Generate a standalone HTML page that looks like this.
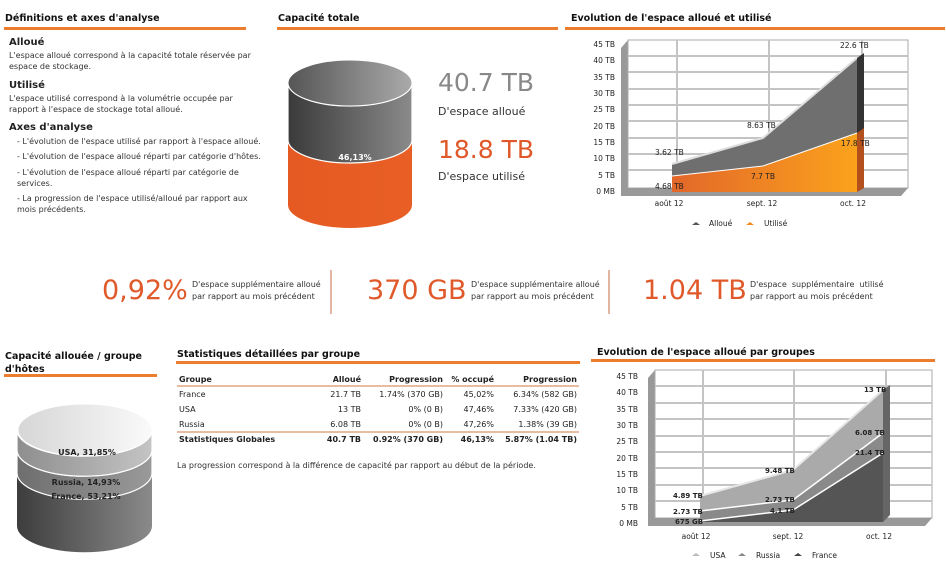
<!DOCTYPE html>
<html><head><meta charset="utf-8"><style>
body{margin:0;width:946px;height:587px;background:#fff;font-family:"DejaVu Sans","Liberation Sans",sans-serif;color:#222;position:relative;overflow:hidden}
.a{position:absolute;white-space:nowrap}
.h{font-weight:bold;font-size:9.5px;color:#111}
.ln{position:absolute;height:3px;background:#ec7d2f}
.s{font-size:8px;color:#333}
.b{font-weight:bold;font-size:10px}
.big{font-size:27px;color:#e0592a}
.sm{font-size:8px;color:#333;line-height:12px}
table{border-collapse:collapse;font-size:8px;position:absolute;table-layout:fixed}
td{padding:0;height:15px;text-align:right}
</style></head><body>
<div class="a h" style="left:5px;top:13px">Définitions et axes d'analyse</div>
<div class="ln" style="left:4px;top:27px;width:242px"></div>
<div class="a h" style="left:278px;top:13px">Capacité totale</div>
<div class="ln" style="left:277px;top:27px;width:281px"></div>
<div class="a h" style="left:571px;top:13px">Evolution de l'espace alloué et utilisé</div>
<div class="ln" style="left:565px;top:27px;width:380px"></div>

<div class="a b" style="left:9px;top:37px">Alloué</div>
<div class="a s" style="left:9px;top:50px;line-height:11px">L'espace alloué correspond à la capacité totale réservée par<br>espace de stockage.</div>
<div class="a b" style="left:9px;top:80px">Utilisé</div>
<div class="a s" style="left:9px;top:93px;line-height:11px">L'espace utilisé correspond à la volumétrie occupée par<br>rapport à l'espace de stockage total alloué.</div>
<div class="a b" style="left:9px;top:122px">Axes d'analyse</div>
<div class="a s" style="left:17px;top:137px">- L'évolution de l'espace utilisé par rapport à l'espace alloué.</div>
<div class="a s" style="left:17px;top:152px">- L'évolution de l'espace alloué réparti par catégorie d'hôtes.</div>
<div class="a s" style="left:17px;top:167px;line-height:11px">- L'évolution de l'espace alloué réparti par catégorie de<br>services.</div>
<div class="a s" style="left:17px;top:193px;line-height:11px">- La progression de l'espace utilisé/alloué par rapport aux<br>mois précédents.</div>

<svg class="a" style="left:0;top:0" width="946" height="587">
<defs>
<linearGradient id="g1" x1="0" x2="1"><stop offset="0" stop-color="#3a3a3a"/><stop offset="1" stop-color="#8a8a8a"/></linearGradient>
<linearGradient id="g1t" x1="0" x2="1"><stop offset="0" stop-color="#555"/><stop offset="1" stop-color="#aaa"/></linearGradient>
<linearGradient id="go" x1="0" x2="1"><stop offset="0" stop-color="#e55a22"/><stop offset="1" stop-color="#e85f25"/></linearGradient>
<linearGradient id="gt" x1="0" x2="1"><stop offset="0" stop-color="#d6d6d6"/><stop offset="1" stop-color="#fafafa"/></linearGradient>
<linearGradient id="gu" x1="0" x2="1"><stop offset="0" stop-color="#8e8e8e"/><stop offset="1" stop-color="#c4c4c4"/></linearGradient>
<linearGradient id="gr" x1="0" x2="1"><stop offset="0" stop-color="#6e6e6e"/><stop offset="1" stop-color="#9a9a9a"/></linearGradient>
<linearGradient id="gf" x1="0" x2="1"><stop offset="0" stop-color="#3d3d3d"/><stop offset="1" stop-color="#8a8a8a"/></linearGradient>
<linearGradient id="ga" x1="0" x2="1"><stop offset="0" stop-color="#e2672a"/><stop offset="1" stop-color="#fba21c"/></linearGradient>
</defs>
<path d="M288 205 V140 A62 23 0 0 0 412 140 V205 A62 23 0 0 1 288 205Z" fill="url(#go)"/>
<path d="M288 140 V83 A62 23 0 0 0 412 83 V140 A62 23 0 0 1 288 140Z" fill="url(#g1)" stroke="#fff" stroke-width="1.2"/>
<ellipse cx="350" cy="83" rx="62" ry="23" fill="url(#g1t)" stroke="#fff" stroke-width="1"/>
<text x="355" y="160" font-size="8" font-weight="bold" fill="#fff" text-anchor="middle" font-family="DejaVu Sans">46,13%</text>
<path d="M17 526 V473 A67 26 0 0 0 152 473 V526 A67 26 0 0 1 17 526Z" fill="url(#gf)"/>
<path d="M17 473 V450 A67 26 0 0 0 152 450 V473 A67 26 0 0 1 17 473Z" fill="url(#gr)" stroke="#fff" stroke-width="1.2"/>
<path d="M17 450 V430 A67 26 0 0 0 152 430 V450 A67 26 0 0 1 17 450Z" fill="url(#gu)" stroke="#fff" stroke-width="1.2"/>
<ellipse cx="85" cy="430" rx="67" ry="26" fill="url(#gt)" stroke="#fff"/>
<g font-size="8" font-weight="bold" fill="#222" text-anchor="middle" font-family="DejaVu Sans">
<text x="87" y="455">USA, 31,85%</text><text x="86" y="485">Russia, 14,93%</text><text x="86" y="499">France, 53,21%</text></g>

<g font-family="DejaVu Sans" font-size="7.5" fill="#222">
<path d="M621 48 L628 40 V188 L621 196Z" fill="#999"/>
<rect x="628" y="40" width="280" height="148" fill="#fff" stroke="#aaa"/>
<g stroke="#c4c4c4" stroke-width="2">
<line x1="628" y1="56" x2="908" y2="56"/><line x1="628" y1="72" x2="908" y2="72"/><line x1="628" y1="89" x2="908" y2="89"/><line x1="628" y1="105" x2="908" y2="105"/><line x1="628" y1="121" x2="908" y2="121"/><line x1="628" y1="138" x2="908" y2="138"/><line x1="628" y1="154" x2="908" y2="154"/><line x1="628" y1="170" x2="908" y2="170"/>
<line x1="677" y1="40" x2="677" y2="188"/><line x1="769" y1="40" x2="769" y2="188"/><line x1="862" y1="40" x2="862" y2="188"/></g>
<path d="M621 188 H908 L901 196 H621Z" fill="#999"/>
<path d="M672 164 L763 138 L857 58 V190 H672Z" fill="#6f6f6f"/>
<path d="M672 164 L763 138 L857 58" fill="none" stroke="#ddd" stroke-width="2"/>
<path d="M857 58 L864 53 V185 L857 190Z" fill="#333"/>
<path d="M672 176 L763 166 L857 133 V192 H672Z" fill="url(#ga)"/>
<path d="M672 176 L763 166 L857 133" fill="none" stroke="#fff" stroke-width="1"/>
<path d="M857 133 L864 128 V188 L857 192Z" fill="#b4501e"/>
<g text-anchor="end"><text x="615" y="47">45 TB</text><text x="615" y="63">40 TB</text><text x="615" y="80">35 TB</text><text x="615" y="96">30 TB</text><text x="615" y="112">25 TB</text><text x="615" y="129">20 TB</text><text x="615" y="145">15 TB</text><text x="615" y="161">10 TB</text><text x="615" y="178">5 TB</text><text x="615" y="194">0 MB</text></g>
<text x="655" y="155">3.62 TB</text><text x="747" y="128">8.63 TB</text><text x="840" y="48">22.6 TB</text>
<text x="655" y="189">4.68 TB</text><text x="751" y="179">7.7 TB</text><text x="841" y="146">17.8 TB</text>
<g text-anchor="middle"><text x="669" y="206">août 12</text><text x="762" y="206">sept. 12</text><text x="853" y="206">oct. 12</text></g>
<path d="M692 225 l4 -3 l4 3Z" fill="#555"/><text x="709" y="226">Alloué</text>
<path d="M746 225 l4 -3 l4 3Z" fill="#f08a20"/><text x="764" y="226">Utilisé</text>
</g>

<g font-family="DejaVu Sans" font-size="7.5" fill="#222">
<path d="M648 378 L655 370 V518 L648 526Z" fill="#999"/>
<rect x="655" y="370" width="277" height="148" fill="#fff" stroke="#aaa"/>
<g stroke="#c4c4c4" stroke-width="2">
<line x1="655" y1="386" x2="932" y2="386"/><line x1="655" y1="403" x2="932" y2="403"/><line x1="655" y1="419" x2="932" y2="419"/><line x1="655" y1="436" x2="932" y2="436"/><line x1="655" y1="452" x2="932" y2="452"/><line x1="655" y1="468" x2="932" y2="468"/><line x1="655" y1="485" x2="932" y2="485"/><line x1="655" y1="501" x2="932" y2="501"/>
<line x1="703" y1="370" x2="703" y2="518"/><line x1="794" y1="370" x2="794" y2="518"/><line x1="886" y1="370" x2="886" y2="518"/></g>
<path d="M648 518 H932 L925 526 H648Z" fill="#999"/>
<path d="M700 496 L793 470 L883 390 V522 H700Z" fill="#aaa"/>
<path d="M700 496 L793 470 L883 390" fill="none" stroke="#e6e6e6" stroke-width="2"/>
<path d="M700 511 L793 500 L883 433 V522 H700Z" fill="#8a8a8a"/>
<path d="M700 511 L793 500 L883 433" fill="none" stroke="#fff" stroke-width="1.5"/>
<path d="M700 521 L793 510 L883 453 V522 H700Z" fill="#555"/>
<path d="M700 521 L793 510 L883 453" fill="none" stroke="#fff" stroke-width="1.5"/>
<path d="M883 390 L890 385 V515 L883 522Z" fill="#666"/>
<g text-anchor="end"><text x="638" y="379">45 TB</text><text x="638" y="395">40 TB</text><text x="638" y="412">35 TB</text><text x="638" y="428">30 TB</text><text x="638" y="444">25 TB</text><text x="638" y="461">20 TB</text><text x="638" y="477">15 TB</text><text x="638" y="493">10 TB</text><text x="638" y="510">5 TB</text><text x="638" y="526">0 MB</text></g>
<g font-weight="bold" font-size="7"><text x="673" y="498">4.89 TB</text><text x="765" y="473">9.48 TB</text><text x="864" y="392">13 TB</text>
<text x="673" y="514">2.73 TB</text><text x="765" y="502">2.73 TB</text><text x="855" y="435">6.08 TB</text>
<text x="675" y="524">675 GB</text><text x="770" y="513">4.1 TB</text><text x="855" y="455">21.4 TB</text></g>
<g text-anchor="middle"><text x="696" y="539">août 12</text><text x="788" y="539">sept. 12</text><text x="879" y="539">oct. 12</text></g>
<path d="M692 556 l4 -3 l4 3Z" fill="#bbb"/><text x="710" y="558">USA</text>
<path d="M738 556 l4 -3 l4 3Z" fill="#888"/><text x="756" y="558">Russia</text>
<path d="M794 556 l4 -3 l4 3Z" fill="#444"/><text x="812" y="558">France</text>
</g>
<line x1="331" y1="270" x2="331" y2="314" stroke="#c86a40"/>
<line x1="609" y1="270" x2="609" y2="314" stroke="#c86a40"/>
<line x1="177" y1="386" x2="579" y2="386" stroke="#d07a40"/>
<line x1="177" y1="432" x2="579" y2="432" stroke="#d07a40"/>
</svg>

<div class="a" style="left:438px;top:68px;font-size:25px;color:#888">40.7 TB</div>
<div class="a" style="left:438px;top:105px;font-size:11px;color:#333">D'espace alloué</div>
<div class="a" style="left:438px;top:135px;font-size:25px;color:#e0592a">18.8 TB</div>
<div class="a" style="left:438px;top:170px;font-size:11px;color:#333">D'espace utilisé</div>

<div class="a big" style="left:102px;top:275px">0,92%</div>
<div class="a sm" style="left:192px;top:279px">D'espace supplémentaire alloué<br>par rapport au mois précédent</div>
<div class="a big" style="left:367px;top:275px">370 GB</div>
<div class="a sm" style="left:471px;top:279px">D'espace supplémentaire alloué<br>par rapport au mois précédent</div>
<div class="a big" style="left:643px;top:275px">1.04 TB</div>
<div class="a sm" style="left:750px;top:279px">D'espace &nbsp;supplémentaire &nbsp;utilisé<br>par rapport au mois précédent</div>

<div class="a h" style="left:5px;top:350px;line-height:13px">Capacité allouée / groupe<br>d'hôtes</div>
<div class="ln" style="left:4px;top:374px;width:153px"></div>
<div class="a h" style="left:177px;top:349px">Statistiques détaillées par groupe</div>
<div class="ln" style="left:176px;top:361px;width:404px"></div>
<div class="a h" style="left:597px;top:347px">Evolution de l'espace alloué par groupes</div>
<div class="ln" style="left:591px;top:359px;width:344px"></div>

<table style="left:179px;top:372px;width:398px">
<colgroup><col style="width:140px"><col style="width:42px"><col style="width:82px"><col style="width:51px"><col style="width:83px"></colgroup>
<tr style="font-weight:bold"><td style="text-align:left">Groupe</td><td>Alloué</td><td>Progression</td><td>% occupé</td><td>Progression</td></tr>
<tr><td style="text-align:left">France</td><td>21.7 TB</td><td>1.74% (370 GB)</td><td>45,02%</td><td>6.34% (582 GB)</td></tr>
<tr><td style="text-align:left">USA</td><td>13 TB</td><td>0% (0 B)</td><td>47,46%</td><td>7.33% (420 GB)</td></tr>
<tr><td style="text-align:left">Russia</td><td>6.08 TB</td><td>0% (0 B)</td><td>47,26%</td><td>1.38% (39 GB)</td></tr>
<tr style="font-weight:bold"><td style="text-align:left">Statistiques Globales</td><td>40.7 TB</td><td>0.92% (370 GB)</td><td>46,13%</td><td>5.87% (1.04 TB)</td></tr>
</table>
<div class="a s" style="left:177px;top:461px">La progression correspond à la différence de capacité par rapport au début de la période.</div>
</body></html>
